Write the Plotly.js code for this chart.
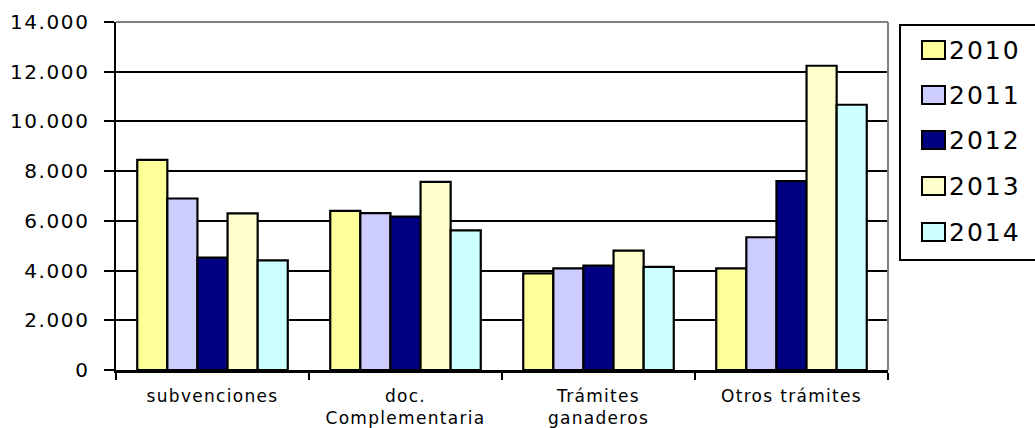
<!DOCTYPE html>
<html>
<head>
<meta charset="utf-8">
<script src="https://cdn.plot.ly/plotly-3.0.1.min.js"></script>
<style>
html,body{margin:0;padding:0;background:#fff;}
#chart g.ytick text{letter-spacing:1.6px;}
#chart g.xtick text{letter-spacing:1.3px;}
#chart g.annotation text{letter-spacing:2px;}
</style>
</head>
<body>
<div id="chart" style="width:1035px;height:428px;"></div>
<script>
// ---- data ----
var categories = ["subvenciones", "doc.<br>Complementaria", "Trámites<br>ganaderos", "Otros trámites"];
var years = ["2010", "2011", "2012", "2013", "2014"];
var values2010 = [8450, 6400, 3890, 4090];
var values2011 = [6900, 6310, 4090, 5340];
var values2012 = [4520, 6170, 4200, 7600];
var values2013 = [6300, 7570, 4800, 12240];
var values2014 = [4410, 5620, 4150, 10670];
var yTickValues = [0, 2000, 4000, 6000, 8000, 10000, 12000, 14000];

var series = [values2010, values2011, values2012, values2013, values2014];
var colors = ["#FFFF99", "#CCCCFF", "#000080", "#FFFFCC", "#CCFFFF"];

var W = 1035, H = 428;
var M = {l: 116, r: 147, t: 22, b: 58};
var pw = W - M.l - M.r, ph = H - M.t - M.b;
function px(x) { return (x - M.l) / pw; }
function py(y) { return (H - M.b - y) / ph; }

var traces = series.map(function (vals, i) {
  return {
    type: "bar",
    x: categories,
    y: vals,
    name: years[i],
    marker: {color: colors[i], line: {color: "#000", width: 2.2}},
    hoverinfo: "x+y+name"
  };
});

var shapes = [
  // gray plot border (top and right)
  {type: "line", xref: "paper", yref: "paper", x0: 0, x1: 1, y0: 1, y1: 1, line: {color: "#808080", width: 2}},
  {type: "line", xref: "paper", yref: "paper", x0: 1, x1: 1, y0: 0, y1: 1, line: {color: "#808080", width: 2}},
  // legend box
  {type: "rect", xref: "paper", yref: "paper", x0: px(900), x1: px(1040), y0: py(260), y1: py(25),
   line: {color: "#000", width: 2}, fillcolor: "#fff"}
];
var annotations = [];
var itemY = [50, 95, 140, 186, 232];
years.forEach(function (yr, i) {
  var cy = itemY[i];
  shapes.push({type: "rect", xref: "paper", yref: "paper",
    x0: px(922), x1: px(945), y0: py(cy + 9), y1: py(cy - 9),
    line: {color: "#000", width: 2}, fillcolor: colors[i]});
  annotations.push({xref: "paper", yref: "paper", x: px(951), y: py(cy), xanchor: "left", yanchor: "middle",
    text: yr, showarrow: false, font: {size: 25, color: "#000", family: "DejaVu Sans"}});
});

var layout = {
  width: W, height: H,
  margin: M,
  paper_bgcolor: "#fff", plot_bgcolor: "#fff",
  font: {family: "DejaVu Sans", color: "#000"},
  separators: ",.",
  barmode: "group",
  bargap: 0.22,
  bargroupgap: 0,
  showlegend: false,
  xaxis: {
    type: "category",
    tickson: "boundaries",
    ticks: "outside", ticklen: 7, tickwidth: 2, tickcolor: "#000",
    showline: true, linecolor: "#000", linewidth: 2.5,
    showgrid: false, zeroline: false,
    tickfont: {size: 17, family: "DejaVu Sans", color: "#000"},
    ticklabelstandoff: 9
  },
  yaxis: {
    range: [0, 14000],
    tickvals: yTickValues,
    tickformat: ",d",
    ticks: "outside", ticklen: 10, tickwidth: 2, tickcolor: "#000",
    showline: true, linecolor: "#000", linewidth: 2.5,
    showgrid: true, gridcolor: "#000", gridwidth: 2,
    zeroline: false,
    tickfont: {size: 20, family: "DejaVu Sans", color: "#000"},
    ticklabelstandoff: 10
  },
  shapes: shapes,
  annotations: annotations
};

Plotly.newPlot("chart", traces, layout, {displayModeBar: false, staticPlot: true});
</script>
</body>
</html>
